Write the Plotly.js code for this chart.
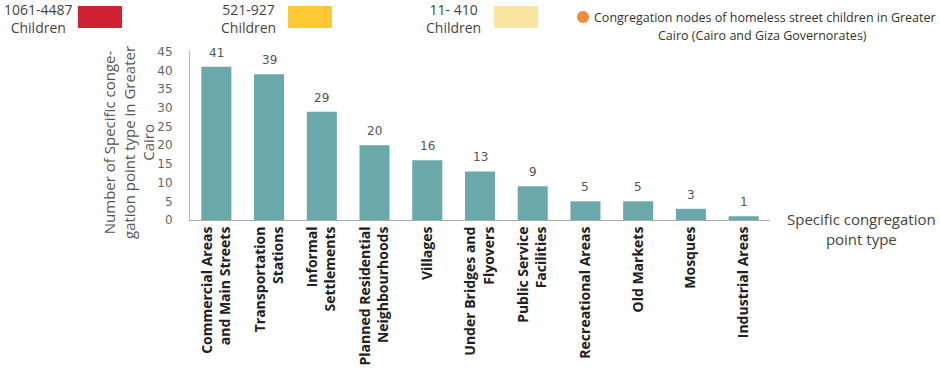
<!DOCTYPE html>
<html>
<head>
<meta charset="utf-8">
<script src="https://cdn.plot.ly/plotly-3.0.1.min.js"></script>
<style>html,body{margin:0;padding:0;background:#fff;}#chart{width:940px;height:370px;}</style>
</head>
<body>
<div id="chart"></div>
<script>
var categories = [
  "Commercial Areas<br>and Main Streets",
  "Transportation<br>Stations",
  "Informal<br>Settlements",
  "Planned Residential<br>Neighbourhoods",
  "Villages",
  "Under Bridges and<br>Flyovers",
  "Public Service<br>Facilities",
  "Recreational Areas",
  "Old Markets",
  "Mosques",
  "Industrial Areas"
];
var counts = [41, 39, 29, 20, 16, 13, 9, 5, 5, 3, 1];
var yTicks = [0, 5, 10, 15, 20, 25, 30, 35, 40, 45];
var legendLabels = ["1061-4487<br>Children", "521-927<br>Children", "11- 410<br>Children"];
var legendColors = ["#cf2233", "#fec835", "#f9e4a2"];

var W = 940, H = 370;
var L = 190, R = 170, T = 50, B = 150;
var pw = W - L - R, ph = H - T - B;
function px(x){ return (x - L) / pw; }
function py(y){ return (H - B - y) / ph; }

var trace = {
  type: "bar",
  x: categories,
  y: counts,
  marker: {color: "#6aa8a9"},
  hoverinfo: "none"
};

var annotations = [];
var shapes = [];

// value labels above bars, placed through the axes
for (var k = 0; k < categories.length; k++) {
  annotations.push({
    xref: "x", yref: "y", x: categories[k], y: counts[k],
    text: String(counts[k]), showarrow: false, xanchor: "center", yanchor: "bottom",
    yshift: 5,
    font: {family: "DejaVu Sans", size: 12, color: "#555"}
  });
}

var legX = [[38, 100], [248, 310], [453, 516]];
for (var i = 0; i < legendLabels.length; i++) {
  annotations.push({
    xref: "paper", yref: "paper", x: px(legX[i][0]), y: py(18),
    text: legendLabels[i], showarrow: false, xanchor: "center", yanchor: "middle",
    font: {family: "Open Sans", size: 14, color: "#444"}, align: "center"
  });
  shapes.push({
    type: "rect", xref: "paper", yref: "paper",
    x0: px(legX[i][1] - 22), x1: px(legX[i][1] + 22), y0: py(28), y1: py(6),
    fillcolor: legendColors[i], line: {width: 0}
  });
}
shapes.push({
  type: "circle", xref: "paper", yref: "paper",
  x0: px(577), x1: px(589), y0: py(23), y1: py(11),
  fillcolor: "#f28a3a", line: {width: 0}
});
annotations.push({
  xref: "paper", yref: "paper", x: px(592), y: py(17),
  text: "Congregation nodes of homeless street children in Greater", showarrow: false,
  xanchor: "left", yanchor: "middle",
  font: {family: "Open Sans", size: 12.5, color: "#333"}
});
annotations.push({
  xref: "paper", yref: "paper", x: px(762), y: py(35),
  text: "Cairo (Cairo and Giza Governorates)", showarrow: false,
  xanchor: "center", yanchor: "middle",
  font: {family: "Open Sans", size: 12.5, color: "#333"}
});
annotations.push({
  xref: "paper", yref: "paper", x: px(128), y: py(143),
  text: "Number of Specific conge-<br>gation point type in Greater<br>Cairo", showarrow: false,
  textangle: -90, xanchor: "center", yanchor: "middle", align: "center",
  font: {family: "Open Sans", size: 15, color: "#555"}
});
annotations.push({
  xref: "paper", yref: "paper", x: px(861), y: py(229),
  text: "Specific congregation<br>point type", showarrow: false,
  xanchor: "center", yanchor: "middle", align: "center",
  font: {family: "Open Sans", size: 15, color: "#444"}
});

var layout = {
  width: W, height: H,
  margin: {l: L, r: R, t: T, b: B, pad: 0},
  paper_bgcolor: "#fff", plot_bgcolor: "#fff",
  showlegend: false,
  bargap: 0.43,
  xaxis: {
    type: "category",
    tickangle: -90,
    tickfont: {family: "Open Sans", size: 14, color: "#222", weight: "bold"},
    showline: true, linecolor: "#aaa", linewidth: 1,
    ticks: "", showgrid: false, zeroline: false
  },
  yaxis: {
    range: [0, 45.5],
    tickvals: yTicks,
    ticktext: yTicks.map(String),
    tickfont: {family: "DejaVu Sans", size: 12, color: "#666"},
    ticklabelstandoff: 14,
    showline: true, linecolor: "#bbb", linewidth: 1,
    ticks: "", showgrid: false, zeroline: false
  },
  annotations: annotations,
  shapes: shapes
};

Plotly.newPlot("chart", [trace], layout, {staticPlot: true, displayModeBar: false});
</script>
</body>
</html>
